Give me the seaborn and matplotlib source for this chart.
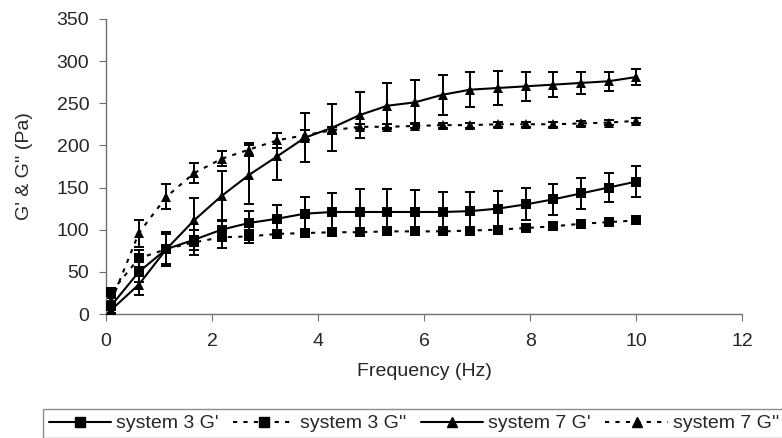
import numpy as np
import pandas as pd
import matplotlib
matplotlib.use("Agg")
import matplotlib.pyplot as plt
import seaborn as sns
from matplotlib.lines import Line2D

freq = [0.1, 0.62, 1.14, 1.66, 2.18, 2.70, 3.23, 3.75, 4.27, 4.79,
        5.31, 5.83, 6.35, 6.87, 7.39, 7.92, 8.44, 8.96, 9.48, 10.0]

s3_g1 = [10, 50, 77, 88, 100, 108, 113, 119, 121, 121,
         121, 121, 121, 122, 125, 130, 136, 143, 150, 157]
s3_g1_err = [5, 12, 20, 12, 12, 14, 16, 20, 23, 27,
             27, 26, 24, 23, 21, 19, 18, 18, 17, 18]

s3_g2 = [26, 66, 77, 85, 91, 92, 95, 96, 97, 97,
         98, 98, 98, 99, 100, 102, 104, 107, 109, 111]
s3_g2_err = [4, 10, 18, 15, 13, 8, 4, 3, 3, 3,
             2, 2, 2, 2, 2, 2, 2, 2, 2, 2]

s7_g1 = [5, 35, 77, 111, 140, 165, 187, 209, 221, 236,
         247, 251, 260, 266, 268, 270, 272, 274, 276, 281]
s7_g1_err = [4, 12, 20, 27, 30, 35, 28, 29, 28, 27,
             27, 26, 24, 21, 20, 17, 15, 13, 11, 9]

s7_g2 = [15, 96, 139, 167, 184, 195, 206, 212, 218, 222,
         222, 223, 224, 224, 225, 225, 225, 226, 227, 229]
s7_g2_err = [4, 16, 15, 12, 9, 8, 9, 6, 4, 3,
             3, 3, 3, 3, 3, 3, 3, 3, 3, 3]

labels = ["system 3 G'", "system 3 G''", "system 7 G'", "system 7 G''"]
values = [s3_g1, s3_g2, s7_g1, s7_g2]
errors = [s3_g1_err, s3_g2_err, s7_g1_err, s7_g2_err]
markers = ["s", "s", "^", "^"]
solid = [True, False, True, False]

df = pd.concat([pd.DataFrame({"freq": freq, "value": v, "series": l})
                for l, v in zip(labels, values)], ignore_index=True)

sns.set_style("ticks")
plt.rcParams["font.family"] = ["Liberation Sans", "DejaVu Sans"]

fig = plt.figure(figsize=(7.82, 4.38), dpi=100)
ax = fig.add_axes([0.1355, 0.283, 0.8135, 0.674])

for v, e in zip(values, errors):
    ax.errorbar(freq, v, yerr=e, fmt="none", ecolor="black",
                elinewidth=1.4, capsize=3.5, capthick=1.4, zorder=2)

sns.lineplot(data=df, x="freq", y="value", hue="series", style="series",
             palette=["black"] * 4, markers=dict(zip(labels, markers)),
             dashes=dict(zip(labels, [(1, 0) if s else (2, 3) for s in solid])),
             markersize=7.5, markeredgewidth=0, linewidth=1.5,
             legend=False, ax=ax, zorder=3)

ax.set_xlim(0, 12)
ax.set_ylim(0, 350)
ax.set_xticks(range(0, 13, 2))
ax.set_yticks(range(0, 351, 50))
ax.set_xlabel("Frequency (Hz)", fontsize=14, labelpad=9)
ax.set_ylabel("G' & G'' (Pa)", fontsize=14, labelpad=17)
ax.tick_params(labelsize=14, length=5, color="#707070")
ax.tick_params(axis="x", pad=9)
ax.tick_params(axis="y", pad=7)
for s in ["left", "bottom"]:
    ax.spines[s].set_color("#707070")
    ax.spines[s].set_linewidth(1.0)
sns.despine(ax=ax)

handles = [Line2D([], [], color="black", marker=m, markersize=7,
                  linestyle="-" if s else (0, (2, 3)), linewidth=1.5)
           for m, s in zip(markers, solid)]
leg = fig.legend(handles, labels, loc="upper left", ncol=4,
                 fontsize=14, frameon=True, fancybox=False,
                 handlelength=3.2, handletextpad=0.25, columnspacing=0.75,
                 borderpad=0.3, borderaxespad=0)
leg.set_bbox_to_anchor((0.055, 1 - 409 / 438), transform=fig.transFigure)
leg.get_frame().set_edgecolor("#707070")
leg.get_frame().set_linewidth(1.0)

fig.savefig("out.png", dpi=100)
